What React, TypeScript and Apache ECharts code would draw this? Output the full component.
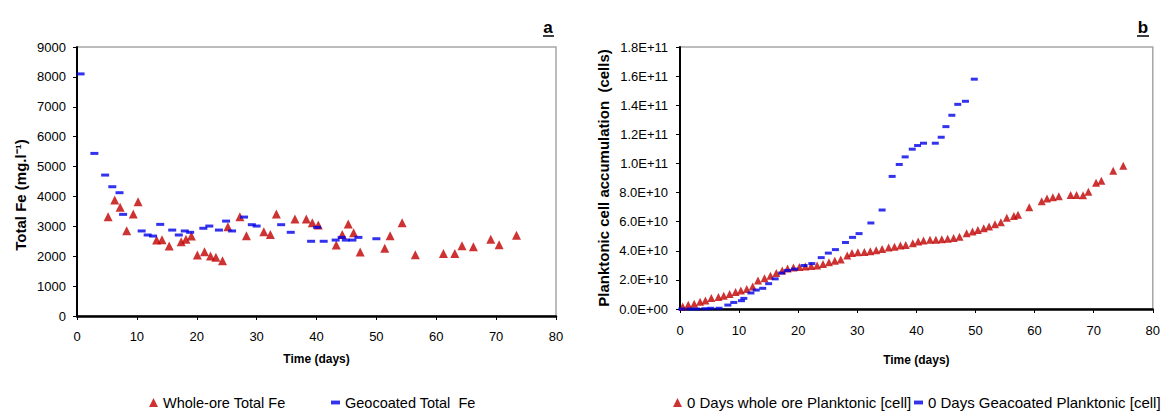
import React, { useEffect, useRef } from "react";
import * as echarts from "echarts";

// ---------- Chart a: Total Fe ----------
const wholeOreDays = [5.2, 6.3, 7.2, 8.3, 9.4, 10.2, 13.3, 14.2, 15.4, 17.4, 18.2, 19.1, 20.1, 21.3, 22.3, 23.2, 24.3, 25.2, 27.2, 28.3, 31.2, 32.3, 33.3, 36.4, 38.3, 39.3, 40.3, 43.3, 44.3, 45.3, 46.2, 47.3, 51.4, 52.3, 54.3, 56.5, 61.2, 63.1, 64.3, 66.2, 69.1, 70.5, 73.4];
const wholeOreFe = [3320, 3880, 3635, 2850, 3410, 3820, 2540, 2550, 2340, 2485, 2565, 2675, 2040, 2150, 2005, 1965, 1850, 2985, 3320, 2685, 2815, 2730, 3410, 3245, 3245, 3120, 3045, 2375, 2730, 3075, 2785, 2140, 2265, 2685, 3120, 2050, 2095, 2095, 2350, 2320, 2565, 2385, 2700];

const geoDays = [0.6, 2.9, 4.7, 5.9, 7.1, 7.7, 10.8, 11.8, 12.7, 13.9, 15.9, 17.0, 18.0, 18.9, 21.1, 22.1, 23.7, 24.9, 25.9, 27.9, 29.2, 30.0, 34.1, 35.7, 39.1, 40.1, 41.2, 43.2, 44.2, 44.9, 46.0, 47.0, 50.0];
const geoFe = [8100, 5440, 4715, 4325, 4125, 3400, 2845, 2710, 2675, 3065, 2875, 2710, 2845, 2800, 2935, 3010, 2875, 3175, 2845, 3310, 3055, 3010, 3055, 2800, 2500, 2965, 2500, 2540, 2630, 2540, 2540, 2630, 2585];

// ---------- Chart b: Planktonic cells (values in units of 1E10) ----------
const wholePlankDays = [0.45, 1.4, 2.4, 3.4, 4.3, 5.3, 6.5, 7.4, 8.4, 9.4, 10.3, 11.3, 12.3, 13.2, 14.3, 15.3, 16.3, 17.3, 18.2, 19.2, 20.2, 21.2, 22.2, 23.2, 24.2, 25.2, 26.2, 27.2, 28.3, 29.1, 30.1, 31.2, 32.2, 33.2, 34.2, 35.3, 36.3, 37.3, 38.2, 39.4, 40.3, 41.2, 42.3, 43.3, 44.3, 45.3, 46.3, 47.3, 48.5, 49.5, 50.4, 51.4, 52.3, 53.3, 54.3, 55.3, 56.5, 57.2, 59.1, 61.2, 62.1, 63.1, 64.1, 66.1, 67.1, 68.2, 69.1, 70.4, 71.3, 73.3, 75.0];
const wholePlankE10 = [0.18, 0.29, 0.36, 0.5, 0.59, 0.75, 0.82, 0.91, 1.03, 1.16, 1.27, 1.37, 1.55, 1.96, 2.12, 2.28, 2.47, 2.64, 2.78, 2.85, 2.88, 2.92, 2.95, 2.99, 3.1, 3.22, 3.31, 3.4, 3.67, 3.84, 3.9, 3.92, 3.97, 4.04, 4.13, 4.22, 4.27, 4.36, 4.4, 4.52, 4.63, 4.7, 4.75, 4.75, 4.79, 4.82, 4.88, 4.97, 5.21, 5.32, 5.43, 5.55, 5.66, 5.82, 5.96, 6.27, 6.39, 6.48, 6.99, 7.4, 7.6, 7.67, 7.74, 7.83, 7.83, 7.81, 8.05, 8.67, 8.81, 9.49, 9.84];

const geoPlankDays = [0.3, 1.7, 2.8, 4.2, 5.2, 6.6, 8.1, 9.1, 10.4, 10.8, 12.0, 12.9, 14.0, 15.0, 16.1, 17.2, 18.2, 19.4, 21.0, 22.3, 23.9, 25.1, 26.3, 28.0, 29.2, 30.3, 32.3, 34.2, 35.9, 37.1, 38.1, 39.3, 40.2, 41.2, 43.2, 44.2, 45.0, 46.0, 47.0, 48.3, 49.8];
const geoPlankE10 = [0, 0, 0, 0.02, 0.05, 0.05, 0.27, 0.45, 0.57, 0.73, 1.1, 1.3, 1.42, 1.74, 2.07, 2.47, 2.65, 2.74, 2.99, 3.12, 3.53, 3.84, 4.08, 4.57, 4.92, 5.18, 5.91, 6.8, 9.11, 9.93, 10.45, 10.98, 11.23, 11.39, 11.39, 11.8, 12.53, 13.31, 14.06, 14.27, 15.79];

const xTicks = [0, 10, 20, 30, 40, 50, 60, 70, 80];

const SANS = "'Liberation Sans', Arial, sans-serif";
const RED = "#C00000";
const BLUE = "#0000E8";
const DASH = "path://M0,0h7v3h-7z";

function sci(v: number): string {
  if (v === 0) return "0.0E+00";
  const e = Math.floor(Math.log10(v) + 1e-9);
  const m = v / Math.pow(10, e);
  return m.toFixed(1) + "E+" + String(e).padStart(2, "0");
}

const pairs = (xs: number[], ys: number[], k = 1) => xs.map((x, i) => [x, ys[i] * k]);

const oneLegend = (left: number, name: string, icon: string, fontSize: number) => ({
  left,
  top: 395,
  itemWidth: 9,
  itemHeight: 9,
  itemGap: 5,
  padding: 0,
  textStyle: { fontFamily: SANS, fontSize, color: "#000" },
  data: [{ name, icon }],
});

export default function App() {
  const ref = useRef<HTMLDivElement>(null);
  useEffect(() => {
    if (!ref.current) return;
    const chart = echarts.init(ref.current, null, { renderer: "svg" });
    const xAxisBase = (gridIndex: number, nameGap: number, labelMargin: number) => ({
      gridIndex,
      type: "value" as const,
      min: xTicks[0],
      max: xTicks[xTicks.length - 1],
      interval: 10,
      name: "Time (days)",
      nameLocation: "middle" as const,
      nameGap,
      nameTextStyle: { fontFamily: SANS, fontWeight: "bold", fontSize: 12, color: "#000" },
      axisLine: { show: true, onZero: false, lineStyle: { color: "#000", width: 2.5 } },
      axisTick: { show: true, length: 4, lineStyle: { color: "#000", width: 1 } },
      axisLabel: { fontFamily: SANS, fontSize: 13, color: "#000", margin: labelMargin },
      splitLine: { show: false },
    });
    chart.setOption({
      animation: false,
      backgroundColor: "#fff",
      grid: [
        { left: 77, top: 47, width: 479, height: 269, show: true, borderColor: "#A6A6A6", borderWidth: 1.5, backgroundColor: "transparent" },
        { left: 680, top: 47, width: 475, height: 262, show: true, borderColor: "#A6A6A6", borderWidth: 1.5, backgroundColor: "transparent" },
      ],
      xAxis: [xAxisBase(0, 37, 14), xAxisBase(1, 45, 15)],
      yAxis: [
        {
          gridIndex: 0,
          type: "value",
          min: 0,
          max: 9000,
          interval: 1000,
          axisLine: { show: true, lineStyle: { color: "#000", width: 2 } },
          axisTick: { show: true, length: 4, lineStyle: { color: "#000" } },
          axisLabel: { fontFamily: SANS, fontSize: 13, color: "#000", margin: 11, formatter: (v: number) => String(v) },
          splitLine: { show: false },
        },
        {
          gridIndex: 1,
          type: "value",
          min: 0,
          max: 1.8e11,
          interval: 2e10,
          axisLine: { show: true, lineStyle: { color: "#000", width: 2 } },
          axisTick: { show: true, length: 4, lineStyle: { color: "#000" } },
          axisLabel: { fontFamily: SANS, fontSize: 13, color: "#000", margin: 12, formatter: (v: number) => sci(v) },
          splitLine: { show: false },
        },
      ],
      legend: [
        oneLegend(149, "Whole-ore Total Fe", "triangle", 14.5),
        oneLegend(331, "Geocoated Total  Fe", DASH, 14.5),
        oneLegend(673, "0 Days whole ore Planktonic [cell]", "triangle", 15),
        oneLegend(914, "0 Days Geacoated Planktonic [cell]", DASH, 15),
      ],
      series: [
        {
          name: "Whole-ore Total Fe",
          type: "scatter",
          xAxisIndex: 0,
          yAxisIndex: 0,
          symbol: "triangle",
          symbolSize: [9, 9],
          itemStyle: { color: RED },
          data: pairs(wholeOreDays, wholeOreFe),
        },
        {
          name: "Geocoated Total  Fe",
          type: "scatter",
          xAxisIndex: 0,
          yAxisIndex: 0,
          symbol: "rect",
          symbolSize: [8, 3],
          itemStyle: { color: BLUE },
          data: pairs(geoDays, geoFe),
        },
        {
          name: "0 Days whole ore Planktonic [cell]",
          type: "scatter",
          xAxisIndex: 1,
          yAxisIndex: 1,
          symbol: "triangle",
          symbolSize: [8, 8],
          itemStyle: { color: RED },
          data: pairs(wholePlankDays, wholePlankE10, 1e10),
        },
        {
          name: "0 Days Geacoated Planktonic [cell]",
          type: "scatter",
          xAxisIndex: 1,
          yAxisIndex: 1,
          symbol: "rect",
          symbolSize: [7, 3],
          itemStyle: { color: BLUE },
          data: pairs(geoPlankDays, geoPlankE10, 1e10),
        },
      ],
      graphic: [
        {
          type: "text",
          x: 20,
          y: 195,
          rotation: Math.PI / 2,
          style: { text: "Total Fe (mg.l\u207B\u00B9)", fontFamily: SANS, fontWeight: "bold", fontSize: 15, fill: "#000", align: "center", verticalAlign: "middle" },
        },
        {
          type: "text",
          x: 603,
          y: 178,
          rotation: Math.PI / 2,
          style: { text: "Planktonic cell accumulation  (cells)", fontFamily: SANS, fontWeight: "bold", fontSize: 15, fill: "#000", align: "center", verticalAlign: "middle" },
        },
        {
          type: "text",
          x: 548,
          y: 27,
          style: { text: "a", fontFamily: SANS, fontWeight: "bold", fontSize: 17, fill: "#000", align: "center", verticalAlign: "middle" },
        },
        { type: "line", shape: { x1: 543, y1: 36, x2: 554, y2: 36 }, style: { stroke: "#000", lineWidth: 1.5 } },
        {
          type: "text",
          x: 1143,
          y: 27,
          style: { text: "b", fontFamily: SANS, fontWeight: "bold", fontSize: 17, fill: "#000", align: "center", verticalAlign: "middle" },
        },
        { type: "line", shape: { x1: 1137, y1: 36, x2: 1149, y2: 36 }, style: { stroke: "#000", lineWidth: 1.5 } },
      ],
    });
    return () => chart.dispose();
  }, []);
  return <div ref={ref} style={{ position: "absolute", left: 0, top: 0, width: 1163, height: 412 }} />;
}
